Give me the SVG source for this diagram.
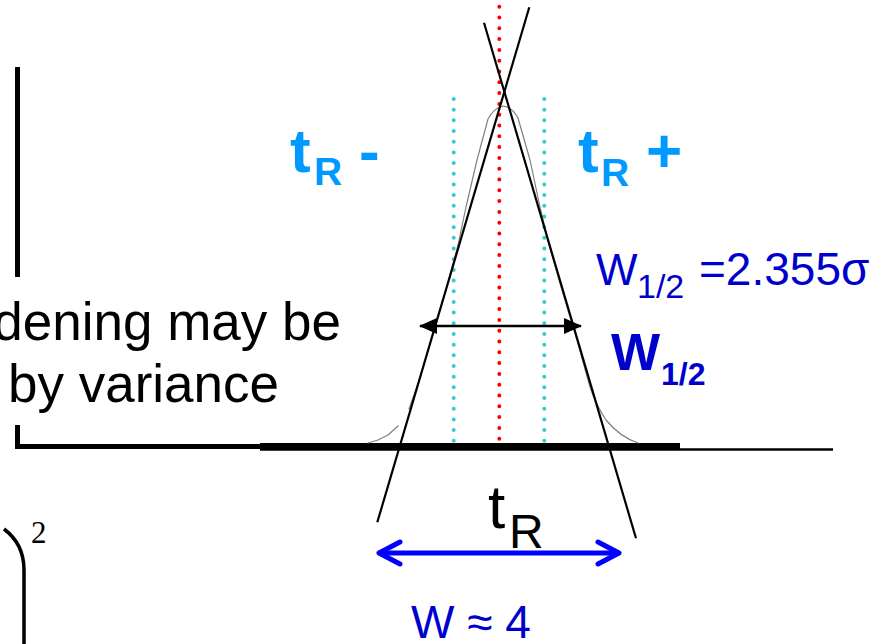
<svg xmlns="http://www.w3.org/2000/svg" width="884" height="644" viewBox="0 0 884 644">
<style>
.sans{font-family:"Liberation Sans",Arial,sans-serif}
.lb{fill:#0099FF;font-weight:bold}
.db{fill:#0000CC}
.blk{fill:#000000}
.ax{stroke:#000;fill:none}
.tan{stroke:#000;stroke-width:2.2;fill:none}
.curve{stroke:#808080;stroke-width:1.2;fill:none;stroke-linejoin:round;stroke-linecap:round}
.reddot{stroke:#FF0000;stroke-width:4;stroke-linecap:round;stroke-dasharray:0 10.8;fill:none}
.cyandot{stroke:#33CCCC;stroke-width:4;stroke-linecap:round;stroke-dasharray:0 10.68;fill:none}
</style>
<defs>
<marker id="blackhead" viewBox="0 0 18 16" refX="17" refY="8" markerWidth="18" markerHeight="16" markerUnits="userSpaceOnUse" orient="auto-start-reverse">
<path d="M0,0 L18,8 L0,16 Z" fill="#000"/>
</marker>
</defs>
<rect width="884" height="644" fill="#FFFFFF"/>
<g id="axes">
<line class="ax" x1="17.5" y1="67" x2="17.5" y2="277" stroke-width="5"/>
<line class="ax" x1="17.5" y1="425" x2="17.5" y2="449" stroke-width="5"/>
<line class="ax" x1="15" y1="446.5" x2="262" y2="446.5" stroke-width="5"/>
<line class="ax" x1="260" y1="449.5" x2="833" y2="449.5" stroke-width="2.5"/>
<line class="ax" x1="260" y1="446.5" x2="680" y2="446.5" stroke-width="7"/>
</g>
<g id="guides">
<line class="cyandot" x1="453.7" y1="99" x2="453.7" y2="441"/>
<line class="cyandot" x1="544.3" y1="99" x2="544.3" y2="441"/>
<line class="reddot" x1="499.3" y1="6.7" x2="499.3" y2="447"/>
</g>
<g id="peak">
<polyline class="curve" points="368,443 378,440 388,435 398,426"/>
<path class="curve" d="M409,409 L420,378 L433,333 L446,290 L458,245 L466,207 L477,160 L488,119 Q494,108 503,106 Q512,107 518,118 L530,160 L540,207 L549,245 L562,290 L577,340 L590,387 Q596,405 606,420 Q620,437 638,443"/>
</g>
<g id="tangents">
<line class="tan" x1="529.3" y1="7.3" x2="377.3" y2="522.3"/>
<line class="tan" x1="484" y1="22.7" x2="636" y2="538.3"/>
</g>
<g id="connectors">
<line x1="420" y1="326" x2="581" y2="326" stroke="#000" stroke-width="2.5" marker-start="url(#blackhead)" marker-end="url(#blackhead)"/>
<g id="base-width-arrow" stroke="#0000FF" stroke-width="5" stroke-linecap="round" stroke-linejoin="round" fill="none">
<line x1="380" y1="553" x2="618" y2="553"/>
<polyline points="400,542 379,553 400,564"/>
<polyline points="598,542 619,553 598,564"/>
</g>
</g>
<g id="label-tr-minus" class="sans lb">
<text x="290" y="172" font-size="62">t</text>
<text x="314" y="185" font-size="39">R</text>
<text x="359" y="172" font-size="62">-</text>
</g>
<g id="label-tr-plus" class="sans lb">
<text x="578" y="172" font-size="62">t</text>
<text x="601" y="186" font-size="39">R</text>
<text x="646" y="172" font-size="62">+</text>
</g>
<g id="label-w12-sigma" class="sans db">
<text x="596" y="285" font-size="44">W</text>
<text x="637" y="298" font-size="34">1/2</text>
<text x="699" y="285" font-size="46">=2.355σ</text>
</g>
<g id="label-w12" class="sans db" font-weight="bold">
<text x="611" y="370" font-size="52">W</text>
<text x="661" y="385" font-size="32">1/2</text>
</g>
<g id="label-broadening" class="sans blk">
<text x="341" y="340" font-size="53" text-anchor="end">dening may be</text>
<text x="8" y="402" font-size="53">by variance</text>
</g>
<g id="label-tr" class="sans blk">
<text x="488" y="528" font-size="62">t</text>
<text x="509" y="548" font-size="48">R</text>
</g>
<g id="label-w" class="sans db">
<text x="411" y="638" font-size="46">W ≈ 4</text>
</g>
<g id="equation-fragment">
<path d="M4,529 Q24,544 24,570 L24,644" stroke="#000" stroke-width="3.5" fill="none"/>
<text x="31" y="543" font-size="31" font-family="'Liberation Serif','Times New Roman',serif" fill="#000">2</text>
</g>
</svg>
